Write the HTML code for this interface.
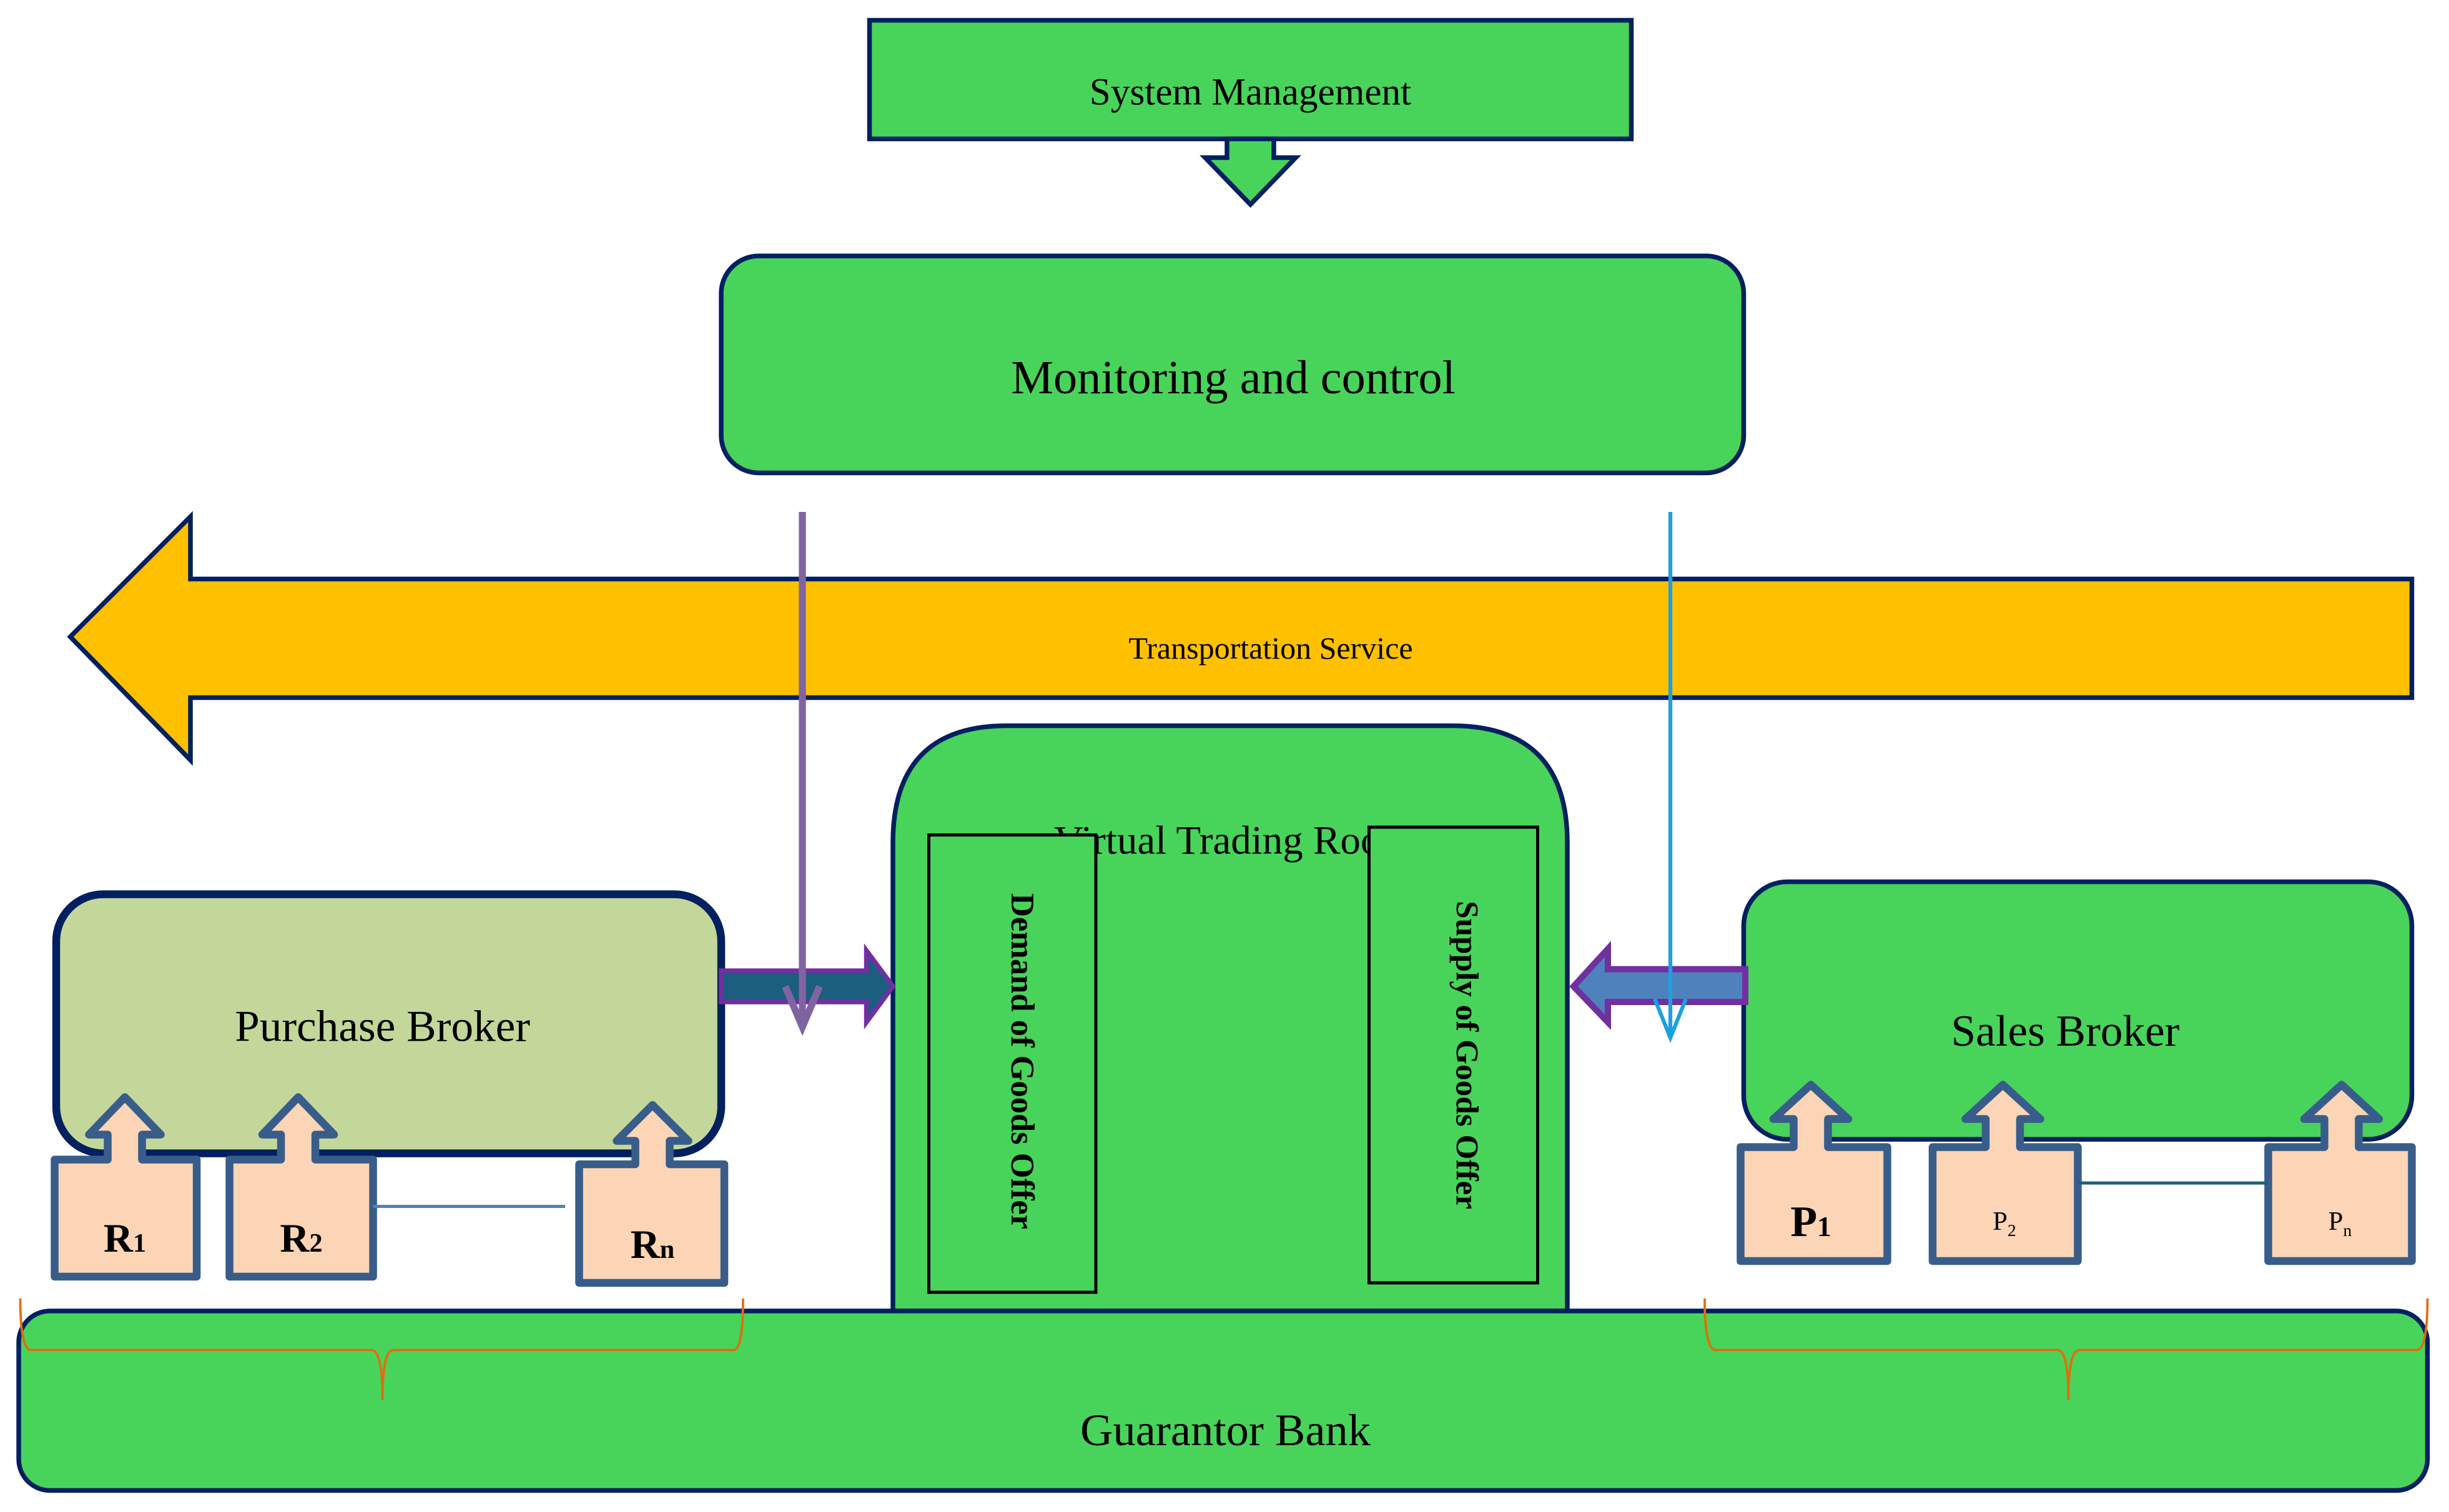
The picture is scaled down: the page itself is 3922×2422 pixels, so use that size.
<!DOCTYPE html>
<html><head><meta charset="utf-8"><style>html,body{margin:0;padding:0;background:#fff}svg{display:block}</style></head>
<body>
<svg width="3922" height="2422" viewBox="0 0 1568.8 968.8" xmlns="http://www.w3.org/2000/svg" font-family="Liberation Serif, serif">
<rect x="557" y="13" width="488" height="76" fill="#48D45A" stroke="#002060" stroke-width="3"/>
<text x="801" y="67" font-size="24.5" text-anchor="middle">System Management</text>
<polygon points="786,89 816,89 816,101 830,101 801,131 772,101 786,101" fill="#48D45A" stroke="#002060" stroke-width="3"/>
<rect x="462" y="164" width="655" height="139" rx="24" fill="#48D45A" stroke="#002060" stroke-width="3"/>
<text x="790" y="252" font-size="30.5" text-anchor="middle">Monitoring and control</text>
<polygon points="45,408 122,331 122,371 1545,371 1545,447 122,447 122,487" fill="#FFC000" stroke="#002060" stroke-width="3"/>
<text x="814" y="422" font-size="20" text-anchor="middle">Transportation Service</text>
<path d="M572,840 L572,540 Q572,465 645,465 L930,465 Q1004,465 1004,540 L1004,840 Z" fill="#48D45A" stroke="#002060" stroke-width="3"/>
<text x="790" y="547" font-size="26" text-anchor="middle">Virtual Trading Room</text>
<rect x="595" y="535" width="107" height="293" fill="#48D45A" stroke="#000" stroke-width="2"/>
<text transform="translate(648,680) rotate(90)" font-size="21" font-weight="bold" text-anchor="middle">Demand of Goods Offer</text>
<rect x="877" y="530" width="108" height="292" fill="#48D45A" stroke="#000" stroke-width="2"/>
<text transform="translate(933,676) rotate(90)" font-size="20.5" font-weight="bold" text-anchor="middle">Supply of Goods Offer</text>
<rect x="36" y="573" width="426" height="166" rx="30" fill="#C4D79B" stroke="#002060" stroke-width="5"/>
<text x="245" y="667" font-size="28.5" text-anchor="middle">Purchase Broker</text>
<polygon points="462,622 555,622 555,609 572,632 555,655 555,642 462,642" fill="#1B5E7E" stroke="#7030A0" stroke-width="3"/>
<rect x="1117" y="565" width="428" height="165" rx="28" fill="#48D45A" stroke="#002060" stroke-width="3"/>
<text x="1323" y="670" font-size="28.5" text-anchor="middle">Sales Broker</text>
<polygon points="1118,621 1030,621 1030,608 1008,632 1030,655 1030,642 1118,642" fill="#4F81BD" stroke="#7030A0" stroke-width="4"/>
<line x1="514" y1="328" x2="514" y2="656" stroke="#8064A2" stroke-width="4.5"/>
<polyline points="503,632 514,658 525,632" fill="none" stroke="#8064A2" stroke-width="4.5"/>
<line x1="1070" y1="328" x2="1070" y2="663" stroke="#1BA1E2" stroke-width="2.5"/>
<polyline points="1060,640 1070,665 1080,640" fill="none" stroke="#1BA1E2" stroke-width="2.5"/>
<g fill="#FBD5B5" stroke="#385D8A" stroke-width="5" stroke-linejoin="round">
<path d="M35,743 L69,743 L69,727 L57,727 L80,703 L103,727 L91,727 L91,743 L126,743 L126,818 L35,818 Z"/>
<path d="M147,743 L180,743 L180,727 L168,727 L191,703 L214,727 L202,727 L202,743 L239,743 L239,818 L147,818 Z"/>
<path d="M371,746 L407,746 L407,731 L395,731 L418,708 L441,731 L429,731 L429,746 L464,746 L464,822 L371,822 Z"/>
<path d="M1115,735 L1149,735 L1149,717 L1136,717 L1160,695 L1184,717 L1171,717 L1171,735 L1209,735 L1209,808 L1115,808 Z"/>
<path d="M1238,735 L1272,735 L1272,717 L1259,717 L1283,695 L1307,717 L1294,717 L1294,735 L1331,735 L1331,808 L1238,808 Z"/>
<path d="M1453,735 L1489,735 L1489,717 L1476,717 L1500,695 L1524,717 L1511,717 L1511,735 L1545,735 L1545,808 L1453,808 Z"/>
</g>
<line x1="239" y1="773" x2="362" y2="773" stroke="#4F81BD" stroke-width="2"/>
<line x1="1331" y1="758" x2="1453" y2="758" stroke="#1F5F7A" stroke-width="2"/>
<g font-weight="bold" font-size="26" text-anchor="middle">
<text x="80" y="802">R<tspan font-size="17">1</tspan></text>
<text x="193" y="802">R<tspan font-size="17">2</tspan></text>
<text x="418" y="806">R<tspan font-size="17">n</tspan></text>
<text x="1160" y="792" font-size="28">P<tspan font-size="18">1</tspan></text>
</g>
<text x="1284" y="788" font-size="17" text-anchor="middle">P<tspan font-size="11" dy="4">2</tspan></text>
<text x="1499" y="788" font-size="17" text-anchor="middle">P<tspan font-size="11" dy="4">n</tspan></text>
<rect x="12" y="840" width="1543" height="115" rx="20" fill="#48D45A" stroke="#002060" stroke-width="3"/>
<text x="785" y="926" font-size="29" text-anchor="middle">Guarantor Bank</text>
<g fill="none" stroke="#E46C0A" stroke-width="1.5">
<path d="M13,832 Q13,865 20,865 L238,865 Q245,865 245,897 Q245,865 252,865 L470,865 Q476,865 476,832"/>
<path d="M1092,832 Q1092,865 1099,865 L1318,865 Q1325,865 1325,897 Q1325,865 1332,865 L1548,865 Q1555,865 1555,832"/>
</g>
</svg>
</body></html>
